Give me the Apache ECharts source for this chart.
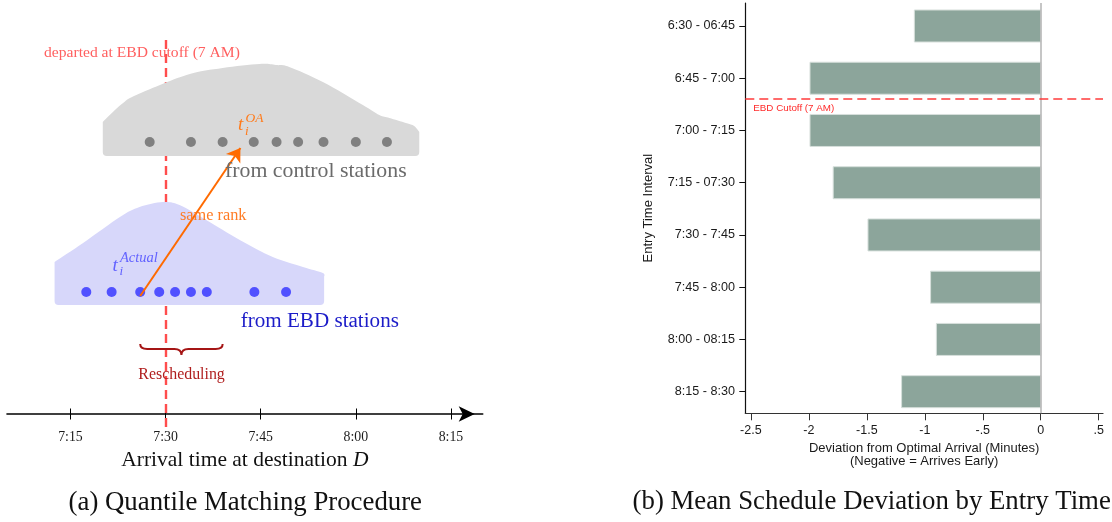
<!DOCTYPE html>
<html><head><meta charset="utf-8">
<script src="https://cdn.jsdelivr.net/npm/echarts@6/dist/echarts.min.js"></script>
<style>html,body{margin:0;padding:0;background:#fff}#c{width:1112px;height:522px}</style>
</head><body><div id="c"></div>
<script>
// ===== Panel (a): quantile matching diagram (arrival time in minutes after 7:00) =====
const arrivalTicks = [15, 30, 45, 60, 75];
const arrivalTickLabels = ['7:15', '7:30', '7:45', '8:00', '8:15'];
const ebdCutoffArrival = 30;
const controlArrivals = [27.5, 34.0, 39.0, 43.9, 47.5, 50.9, 54.9, 60.0, 64.9];
const ebdArrivals = [17.5, 21.5, 26.0, 29.0, 31.5, 34.0, 36.5, 44.0, 49.0];
// density outlines: [minute, height]
const controlDensity = [[20.1,29.2],[21.2,29.9],[23.3,31.1],[25.4,31.9],[33.3,33.9],[39.0,34.6],[44.8,35.0],[47.4,34.9],[49.5,34.7],[54.8,33.2],[61.1,30.9],[63.7,29.9],[65.3,29.6],[67.9,29.1],[69.2,28.8],[70.0,28.2]];
const ebdDensity = [[12.5,15.2],[17.0,17.1],[22.8,19.7],[25.9,20.7],[29.6,21.2],[32.2,20.9],[36.4,19.4],[41.7,17.4],[46.9,15.7],[52.2,14.6],[54.8,14.1],[55.0,13.7]];
const reschedulingWindow = [26.0, 39.0];
const rankMatch = [[26.0, 11.8], [41.8, 26.6]];

// ===== Panel (b): mean schedule deviation by entry time =====
const entryIntervals = ['6:30 - 06:45','6:45 - 7:00','7:00 - 7:15','7:15 - 07:30','7:30 - 7:45','7:45 - 8:00','8:00 - 08:15','8:15 - 8:30'];
const meanDeviation = [-1.09, -1.99, -1.99, -1.79, -1.49, -0.95, -0.90, -1.20];
const deviationTicks = [-2.5, -2, -1.5, -1, -0.5, 0, 0.5];
const deviationTickLabels = ['-2.5', '-2', '-1.5', '-1', '-.5', '0', '.5'];
const ebdCutoffEntry = 1.39;

// layout constants for panel (a)
const CONTROL_BASE = 25.8, CONTROL_ROW = 27.2;
const EBD_BASE = 10.9, EBD_ROW = 12.2;
const SERIF = 'Liberation Serif', SANS = 'Liberation Sans';

function blobRenderer(outline, base, fill) {
  return function (params, api) {
    const pts = outline.map(p => api.coord(p));
    const bl = api.coord([outline[0][0], base]);
    const br = api.coord([outline[outline.length - 1][0], base]);
    const r = 4;
    let d = `M${bl[0]},${bl[1] - r} L${pts[0][0]},${pts[0][1]}`;
    for (let i = 0; i < pts.length - 1; i++) {
      const p0 = pts[Math.max(i - 1, 0)], p1 = pts[i], p2 = pts[i + 1], p3 = pts[Math.min(i + 2, pts.length - 1)];
      const c1 = [p1[0] + (p2[0] - p0[0]) / 6, p1[1] + (p2[1] - p0[1]) / 6];
      const c2 = [p2[0] - (p3[0] - p1[0]) / 6, p2[1] - (p3[1] - p1[1]) / 6];
      d += ` C${c1[0]},${c1[1]} ${c2[0]},${c2[1]} ${p2[0]},${p2[1]}`;
    }
    d += ` L${br[0]},${br[1] - r} Q${br[0]},${br[1]} ${br[0] - r},${br[1]} L${bl[0] + r},${bl[1]} Q${bl[0]},${bl[1]} ${bl[0]},${bl[1] - r} Z`;
    return { type: 'path', shape: { pathData: d }, style: { fill: fill } };
  };
}

function braceRenderer(params, api) {
  const a = api.coord([reschedulingWindow[0], 7.0]);
  const b = api.coord([reschedulingWindow[1], 7.0]);
  const x1 = a[0], x2 = b[0], y0 = a[1], xm = (x1 + x2) / 2, h = 11, q = 7;
  const ym = y0 + h * 0.45;
  const d = `M${x1},${y0} Q${x1},${ym} ${x1 + q},${ym} L${xm - q},${ym} Q${xm},${ym} ${xm},${y0 + h} Q${xm},${ym} ${xm + q},${ym} L${x2 - q},${ym} Q${x2},${ym} ${x2},${y0}`;
  return { type: 'path', shape: { pathData: d }, style: { fill: 'none', stroke: '#a51515', lineWidth: 2 } };
}

function txt(text, x, y, font, fill, align) {
  return { type: 'text', z: 50, style: { text: text, x: x, y: y, font: font, fill: fill, align: align || 'left', verticalAlign: 'middle' } };
}

const chart = echarts.init(document.getElementById('c'), null, { renderer: 'canvas' });
const option = {
  animation: false,
  backgroundColor: '#fff',
  grid: [
    { left: 7, top: 14, width: 475.7, height: 460, outerBoundsMode: 'none', containLabel: false },
    { left: 745.3, top: 3, width: 357.7, height: 410.3, outerBoundsMode: 'none', containLabel: false }
  ],
  xAxis: [
    {
      gridIndex: 0, type: 'value', min: 5, max: 80, position: 'bottom', offset: -60,
      axisLine: { onZero: false, lineStyle: { color: '#000', width: 1.6 }, symbol: ['none', 'arrow'], symbolSize: [11.5, 16], symbolOffset: [0, -8] },
      axisTick: { customValues: arrivalTicks, length: 5.5, lineStyle: { color: '#000', width: 1 } },
      axisLabel: { customValues: arrivalTicks, formatter: v => arrivalTickLabels[arrivalTicks.indexOf(v)], fontFamily: SERIF, fontSize: 13.8, color: '#1a1a1a', margin: 16 },
      splitLine: { show: false },
      name: 'Arrival time at destination {d|D}', nameLocation: 'middle', nameGap: 31,
      nameTextStyle: { fontFamily: SERIF, fontSize: 21.5, color: '#111', rich: { d: { fontFamily: SERIF, fontSize: 21.5, fontStyle: 'italic', color: '#111' } } }
    },
    {
      gridIndex: 0, type: 'value', min: 5, max: 80, position: 'bottom', offset: -60,
      axisLine: { show: false, onZero: false },
      axisTick: { customValues: arrivalTicks, inside: true, length: 5.5, lineStyle: { color: '#000', width: 1 } },
      axisLabel: { show: false }, splitLine: { show: false }
    },
    {
      gridIndex: 1, type: 'value', min: -2.548, max: 0.537,
      axisLine: { onZero: false, lineStyle: { color: '#333', width: 1.2 } },
      axisTick: { customValues: deviationTicks, length: 7, lineStyle: { color: '#333', width: 1 } },
      axisLabel: { customValues: deviationTicks, formatter: v => deviationTickLabels[deviationTicks.indexOf(v)], fontFamily: SANS, fontSize: 12.5, color: '#1a1a1a', margin: 10.5 },
      splitLine: { show: false },
      name: 'Deviation from Optimal Arrival (Minutes)\n(Negative = Arrives Early)', nameLocation: 'middle', nameGap: 24.3,
      nameTextStyle: { fontFamily: SANS, fontSize: 13, lineHeight: 13.4, color: '#1a1a1a' }
    }
  ],
  yAxis: [
    { gridIndex: 0, type: 'value', min: -6, max: 40, show: false },
    {
      gridIndex: 1, type: 'value', inverse: true, min: -0.44, max: 7.414,
      axisLine: { show: true, onZero: false, lineStyle: { color: '#111', width: 1.2 } },
      axisTick: { show: true, customValues: [0, 1, 2, 3, 4, 5, 6, 7], length: 6, lineStyle: { color: '#111', width: 1 } },
      axisLabel: { customValues: [0, 1, 2, 3, 4, 5, 6, 7], formatter: v => entryIntervals[v], fontFamily: SANS, fontSize: 12.6, color: '#1a1a1a', margin: 10.3 },
      splitLine: { show: false },
      name: 'Entry Time Interval', nameLocation: 'middle', nameGap: 90.5, nameRotate: 90,
      nameTextStyle: { fontFamily: SANS, fontSize: 13, color: '#1a1a1a' }
    }
  ],
  series: [
    {
      type: 'lines', coordinateSystem: 'cartesian2d', xAxisIndex: 0, yAxisIndex: 0, z: 1,
      data: [{ coords: [[ebdCutoffArrival, 37.4], [ebdCutoffArrival, -1.3]] }],
      symbol: 'none', lineStyle: { color: '#ff4d4d', width: 2.4, type: [9, 5], opacity: 1 }
    },
    { type: 'custom', xAxisIndex: 0, yAxisIndex: 0, z: 2, data: [[controlDensity[0][0], CONTROL_BASE]], renderItem: blobRenderer(controlDensity, CONTROL_BASE, '#d9d9d9'), silent: true },
    { type: 'custom', xAxisIndex: 0, yAxisIndex: 0, z: 2, data: [[ebdDensity[0][0], EBD_BASE]], renderItem: blobRenderer(ebdDensity, EBD_BASE, '#d7d7fa'), silent: true },
    { type: 'scatter', xAxisIndex: 0, yAxisIndex: 0, z: 3, symbolSize: 10, itemStyle: { color: '#808080', opacity: 1 }, data: controlArrivals.map(m => [m, CONTROL_ROW]) },
    { type: 'scatter', xAxisIndex: 0, yAxisIndex: 0, z: 3, symbolSize: 10, itemStyle: { color: '#5151ff', opacity: 1 }, data: ebdArrivals.map(m => [m, EBD_ROW]) },
    {
      type: 'lines', coordinateSystem: 'cartesian2d', xAxisIndex: 0, yAxisIndex: 0, z: 4,
      data: [{ coords: rankMatch }], symbol: ['none', 'arrow'], symbolSize: [8.5, 13],
      lineStyle: { color: '#ff6a00', width: 2, opacity: 1, curveness: 0 }, itemStyle: { color: '#ff6a00' }
    },
    { type: 'custom', xAxisIndex: 0, yAxisIndex: 0, z: 3, data: [[reschedulingWindow[0], 7]], renderItem: braceRenderer, silent: true },
    {
      type: 'custom', xAxisIndex: 2, yAxisIndex: 1, z: 2,
      data: meanDeviation.map((v, i) => [v, i]),
      encode: { x: 0, y: 1 },
      renderItem: function (params, api) {
        const v = api.value(0), i = api.value(1);
        const p0 = api.coord([0, i]), p1 = api.coord([v, i]);
        const h = api.size([0, 1])[1] * 0.6125;
        return { type: 'rect', shape: { x: Math.min(p0[0], p1[0]), y: p0[1] - h / 2, width: Math.abs(p1[0] - p0[0]), height: h }, style: { fill: '#8ca59b', stroke: '#d6dfdb', lineWidth: 1 } };
      },
      markLine: {
        silent: true, symbol: 'none', animation: false,
        data: [
          { xAxis: 0, lineStyle: { color: '#b3b3b3', width: 1.5, type: 'solid' }, label: { show: false } },
          { yAxis: ebdCutoffEntry, lineStyle: { color: '#ff3b3b', width: 1.5, type: [9, 5] },
            label: { show: true, formatter: 'EBD Cutoff (7 AM)', position: 'insideStartBottom', distance: [8, 5], color: '#ff2a2a', fontFamily: SANS, fontSize: 9.8 } }
        ]
      }
    }
  ],
  graphic: [
    txt('departed at EBD cutoff (7 AM)', 44, 52.7, `15.6px "${SERIF}"`, '#ff5f5f'),
    txt('from control stations', 225, 171.7, `21.8px "${SERIF}"`, '#6b6b6b'),
    txt('from EBD stations', 240.7, 321.7, `21.1px "${SERIF}"`, '#1c1cc8'),
    txt('same rank', 180, 216, `16.3px "${SERIF}"`, '#ff7b24'),
    txt('Rescheduling', 138.3, 375, `15.9px "${SERIF}"`, '#b01e1e'),
    txt('t', 238, 125, `italic 19px "${SERIF}"`, '#ff7a1a'),
    txt('OA', 245.5, 118.3, `italic 13.5px "${SERIF}"`, '#ff7a1a'),
    txt('i', 245, 131.5, `italic 13px "${SERIF}"`, '#ff7a1a'),
    txt('t', 112.5, 266, `italic 19px "${SERIF}"`, '#6262ff'),
    txt('Actual', 120, 258.3, `italic 14.5px "${SERIF}"`, '#6262ff'),
    txt('i', 119.5, 272, `italic 13px "${SERIF}"`, '#6262ff'),
    txt('(a) Quantile Matching Procedure', 245.3, 503.3, `26.8px "${SERIF}"`, '#111', 'center'),
    txt('(b) Mean Schedule Deviation by Entry Time', 871.7, 502.3, `26.8px "${SERIF}"`, '#111', 'center')
  ]
};
chart.setOption(option);
</script>
</body></html>
